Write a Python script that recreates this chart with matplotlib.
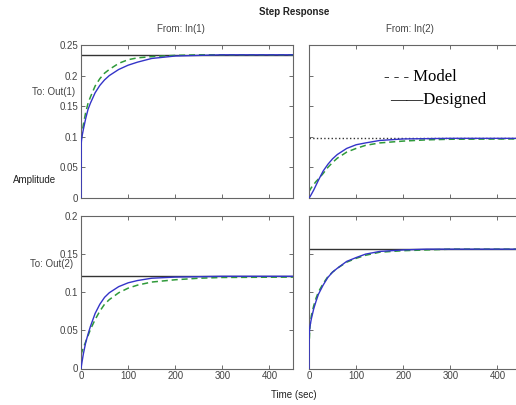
import matplotlib
matplotlib.use("Agg")
import matplotlib.pyplot as plt

# time samples (sec)
t = [0, 0.5, 2, 5, 10, 15, 20, 30, 40, 50, 60, 80, 100, 120, 150, 200, 250, 300, 450]

# In(1) -> Out(1)
designed_11 = [0, 0.090, 0.100, 0.112, 0.130, 0.145, 0.155, 0.172, 0.184, 0.193, 0.200, 0.210, 0.217, 0.222, 0.228, 0.232, 0.233, 0.234, 0.234]
model_11 = [0, 0.090, 0.105, 0.120, 0.140, 0.155, 0.165, 0.183, 0.195, 0.204, 0.210, 0.220, 0.226, 0.229, 0.231, 0.233, 0.234, 0.234, 0.234]
final_11 = 0.234

# In(2) -> Out(1)
designed_12 = [0, 0.0005, 0.002, 0.006, 0.013, 0.021, 0.029, 0.044, 0.055, 0.064, 0.071, 0.081, 0.087, 0.090, 0.094, 0.0965, 0.097, 0.0975, 0.0975]
model_12 = [0.010, 0.011, 0.013, 0.017, 0.022, 0.027, 0.031, 0.040, 0.050, 0.058, 0.065, 0.075, 0.081, 0.086, 0.090, 0.093, 0.095, 0.096, 0.0965]
final_12 = 0.0975

# In(1) -> Out(2)
designed_21 = [0, 0.002, 0.008, 0.019, 0.034, 0.045, 0.055, 0.072, 0.084, 0.093, 0.099, 0.107, 0.112, 0.115, 0.118, 0.1195, 0.120, 0.1205, 0.1205]
model_21 = [0.018, 0.019, 0.022, 0.027, 0.035, 0.043, 0.051, 0.064, 0.075, 0.084, 0.090, 0.099, 0.105, 0.109, 0.113, 0.116, 0.118, 0.119, 0.1195]
final_21 = 0.1207

# In(2) -> Out(2)
designed_22 = [0, 0.045, 0.055, 0.065, 0.078, 0.088, 0.097, 0.109, 0.119, 0.126, 0.131, 0.140, 0.145, 0.1495, 0.153, 0.155, 0.156, 0.156, 0.156]
model_22 = [0, 0.035, 0.055, 0.069, 0.082, 0.092, 0.100, 0.111, 0.120, 0.126, 0.131, 0.139, 0.144, 0.148, 0.152, 0.154, 0.155, 0.156, 0.156]
final_22 = 0.1565

xticks = [0, 100, 200, 300, 400]
yticks_top = [0, 0.05, 0.1, 0.15, 0.2, 0.25]
yticks_bot = [0, 0.05, 0.1, 0.15, 0.2]

plt.rcParams['font.family'] = ['Liberation Sans', 'DejaVu Sans']

blue = '#3434c8'
green = '#2f9a3a'
grey = '#555555'

fig = plt.figure(figsize=(5.16, 4.05), dpi=100)
W = 212 / 516
H = 153 / 405
ax11 = fig.add_axes([81 / 516, 1 - 198 / 405, W, H])
ax12 = fig.add_axes([309 / 516, 1 - 198 / 405, W, H])
ax21 = fig.add_axes([81 / 516, 1 - 368.5 / 405, W, H])
ax22 = fig.add_axes([309 / 516, 1 - 368.5 / 405, W, H])

panels = [
    (ax11, designed_11, model_11, final_11, '-', (0, 0.25), yticks_top),
    (ax12, designed_12, model_12, final_12, ':', (0, 0.25), yticks_top),
    (ax21, designed_21, model_21, final_21, '-', (0, 0.2), yticks_bot),
    (ax22, designed_22, model_22, final_22, '-', (0, 0.2), yticks_bot),
]

for ax, des, mod, fin, fls, ylim, yt in panels:
    ax.axhline(fin, color='#333333', lw=1.0, ls=fls, zorder=1)
    ax.plot(t, mod, color=green, lw=1.1, ls=(0, (4, 2.5)), zorder=2)
    ax.plot(t, des, color=blue, lw=1.0, zorder=3)
    ax.set_xlim(0, 450)
    ax.set_ylim(*ylim)
    ax.set_xticks(xticks)
    ax.set_yticks(yt)
    ax.tick_params(direction='in', top=True, right=True, length=3, width=0.6,
                   colors=grey, labelsize=7, labelcolor='#444444', pad=2)
    for s in ax.spines.values():
        s.set_color('#666666')
        s.set_linewidth(0.8)

ax11.set_yticklabels(['0', '0.05', '0.1', '0.15', '0.2', '0.25'])
ax21.set_yticklabels(['0', '0.05', '0.1', '0.15', '0.2'])
ax12.set_yticklabels([])
ax22.set_yticklabels([])
ax11.set_xticklabels([])
ax12.set_xticklabels([])

# annotation pasted on the right panel
ax12.text(0.354, 0.79, '- - - Model', transform=ax12.transAxes, ha='left', va='center',
          family='Liberation Serif', fontsize=12, color='black')
ax12.text(0.382, 0.641, '\u2014\u2014Designed', transform=ax12.transAxes, ha='left', va='center',
          family='Liberation Serif', fontsize=12, color='black')

fig.text(294 / 516, 1 - 12 / 405, 'Step Response', ha='center', va='center',
         fontsize=7, fontweight='bold', color='#222222')
fig.text(181 / 516, 1 - 29 / 405, 'From: In(1)', ha='center', va='center',
         fontsize=7, color='#444444')
fig.text(410 / 516, 1 - 29 / 405, 'From: In(2)', ha='center', va='center',
         fontsize=7, color='#444444')
fig.text(54 / 516, 1 - 92 / 405, 'To: Out(1)', ha='center', va='center',
         fontsize=7, color='#444444')
fig.text(52 / 516, 1 - 264 / 405, 'To: Out(2)', ha='center', va='center',
         fontsize=7, color='#444444')
fig.text(35 / 516, 1 - 180 / 405, 'Amplitude', ha='center', va='center',
         fontsize=7, color='#222222')
fig.text(294 / 516, 1 - 395 / 405, 'Time (sec)', ha='center', va='center',
         fontsize=7, color='#222222')

fig.savefig('out.png', dpi=100)
